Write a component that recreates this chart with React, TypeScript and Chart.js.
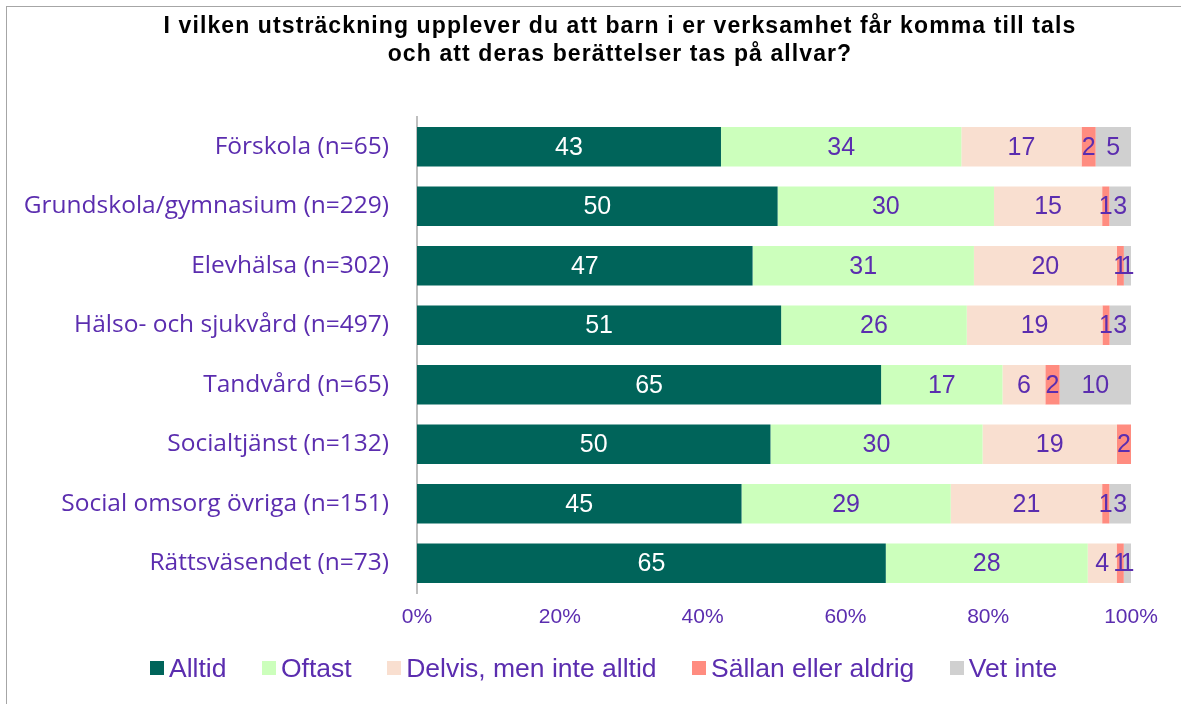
import React, { useEffect, useRef } from "react";
import { Chart, registerables } from "chart.js";

Chart.register(...registerables);

const TITLE_LINES = [
  "I vilken utsträckning upplever du att barn i er verksamhet får komma till tals",
  "och att deras berättelser tas på allvar?",
];

const categories = [
  "Förskola (n=65)",
  "Grundskola/gymnasium (n=229)",
  "Elevhälsa (n=302)",
  "Hälso- och sjukvård (n=497)",
  "Tandvård (n=65)",
  "Socialtjänst (n=132)",
  "Social omsorg övriga (n=151)",
  "Rättsväsendet (n=73)",
];

const seriesNames = ["Alltid", "Oftast", "Delvis, men inte alltid", "Sällan eller aldrig", "Vet inte"];

const alltid = [43, 50, 47, 51, 65, 50, 45, 65];
const oftast = [34, 30, 31, 26, 17, 30, 29, 28];
const delvis = [17, 15, 20, 19, 6, 19, 21, 4];
const sallan = [2, 1, 1, 1, 2, 2, 1, 1];
const vetInte = [5, 3, 1, 3, 10, 0, 3, 1];

const xTicks = [0, 20, 40, 60, 80, 100];

const seriesValues = [alltid, oftast, delvis, sallan, vetInte];
const seriesColors = ["#00645A", "#CCFFBC", "#F9DFD0", "#FF8C80", "#D0D0D0"];
const labelColors = ["#FFFFFF", "#5B2DAF", "#5B2DAF", "#5B2DAF", "#5B2DAF"];
const PURPLE = "#5B2DAF";

const totals = categories.map((_, i) => seriesValues.reduce((s, arr) => s + arr[i], 0));

const valueLabelPlugin = {
  id: "valueLabels",
  afterDatasetsDraw(chart: any) {
    const ctx = chart.ctx;
    ctx.save();
    ctx.font = "25px 'Liberation Sans', Arial, sans-serif";
    ctx.textAlign = "center";
    ctx.textBaseline = "middle";
    chart.data.datasets.forEach((ds: any, di: number) => {
      const meta = chart.getDatasetMeta(di);
      meta.data.forEach((el: any, i: number) => {
        const raw = ds.rawValues[i];
        if (!raw) return;
        const cx = (el.x + el.base) / 2;
        ctx.fillStyle = labelColors[di];
        ctx.fillText(String(raw), cx, el.y + 1);
      });
    });
    ctx.restore();
  },
};

export default function App() {
  const canvasRef = useRef<HTMLCanvasElement | null>(null);

  useEffect(() => {
    if (!canvasRef.current) return;
    const chart = new Chart(canvasRef.current, {
      type: "bar",
      data: {
        labels: categories,
        datasets: seriesValues.map((vals, si) => ({
          label: seriesNames[si],
          data: vals.map((v, i) => (v / totals[i]) * 100),
          rawValues: vals,
          backgroundColor: seriesColors[si],
          borderWidth: 0,
          barPercentage: 0.664,
          categoryPercentage: 1,
        })) as any,
      },
      options: {
        indexAxis: "y",
        responsive: false,
        animation: false,
        devicePixelRatio: 1,
        layout: { padding: { top: 117, right: 50, left: 0, bottom: 0 } },
        plugins: {
          legend: { display: false },
          title: { display: false },
          tooltip: { enabled: false },
        },
        scales: {
          x: {
            stacked: true,
            min: 0,
            max: 100,
            afterBuildTicks: (scale: any) => {
              scale.ticks = xTicks.map((v) => ({ value: v }));
            },
            afterFit: (scale: any) => {
              scale.height = 111;
            },
            grid: { display: false, drawTicks: false },
            border: { display: false },
            ticks: {
              padding: 12,
              color: PURPLE,
              font: { family: "'Liberation Sans', Arial, sans-serif", size: 21 },
              callback: (v: any) => v + "%",
            },
          },
          y: {
            stacked: true,
            afterFit: (scale: any) => {
              scale.width = 417;
            },
            grid: { display: false, drawTicks: false },
            border: { display: true, color: "#BFBFBF", width: 2 },
            ticks: {
              padding: 28,
              color: PURPLE,
              font: { family: "'Open Sans', sans-serif", size: 24.5 },
            },
          },
        },
      },
      plugins: [valueLabelPlugin],
    });
    return () => chart.destroy();
  }, []);

  return (
    <div style={{ position: "absolute", left: 0, top: 0, width: 1181, height: 704, overflow: "hidden", background: "#fff" }}>
      <div
        style={{
          position: "absolute",
          left: 6,
          top: 6,
          width: 1175,
          height: 698,
          borderLeft: "1.5px solid #A6A6A6",
          borderTop: "1.5px solid #A6A6A6",
          boxSizing: "border-box",
        }}
      />
      <canvas ref={canvasRef} width={1181} height={704} style={{ position: "absolute", left: 0, top: 0 }} />
      <div
        style={{
          position: "absolute",
          left: 60,
          width: 1120,
          top: 10.5,
          textAlign: "center",
          fontFamily: "'Liberation Sans', Arial, sans-serif",
          fontWeight: "bold",
          fontSize: 23,
          letterSpacing: "1.1px",
          lineHeight: "28px",
          color: "#000",
        }}
      >
        {TITLE_LINES.map((t) => (
          <div key={t}>{t}</div>
        ))}
      </div>
      <div
        style={{
          position: "absolute",
          left: 150,
          top: 650,
          height: 36,
          display: "flex",
          alignItems: "center",
          gap: 35.5,
          fontFamily: "'Liberation Sans', Arial, sans-serif",
          fontSize: 26.5,
          color: PURPLE,
          whiteSpace: "nowrap",
        }}
      >
        {seriesNames.map((n, i) => (
          <div key={n} style={{ display: "flex", alignItems: "center" }}>
            <span style={{ display: "inline-block", width: 14, height: 14, background: seriesColors[i], marginRight: 5 }} />
            <span>{n}</span>
          </div>
        ))}
      </div>
    </div>
  );
}
